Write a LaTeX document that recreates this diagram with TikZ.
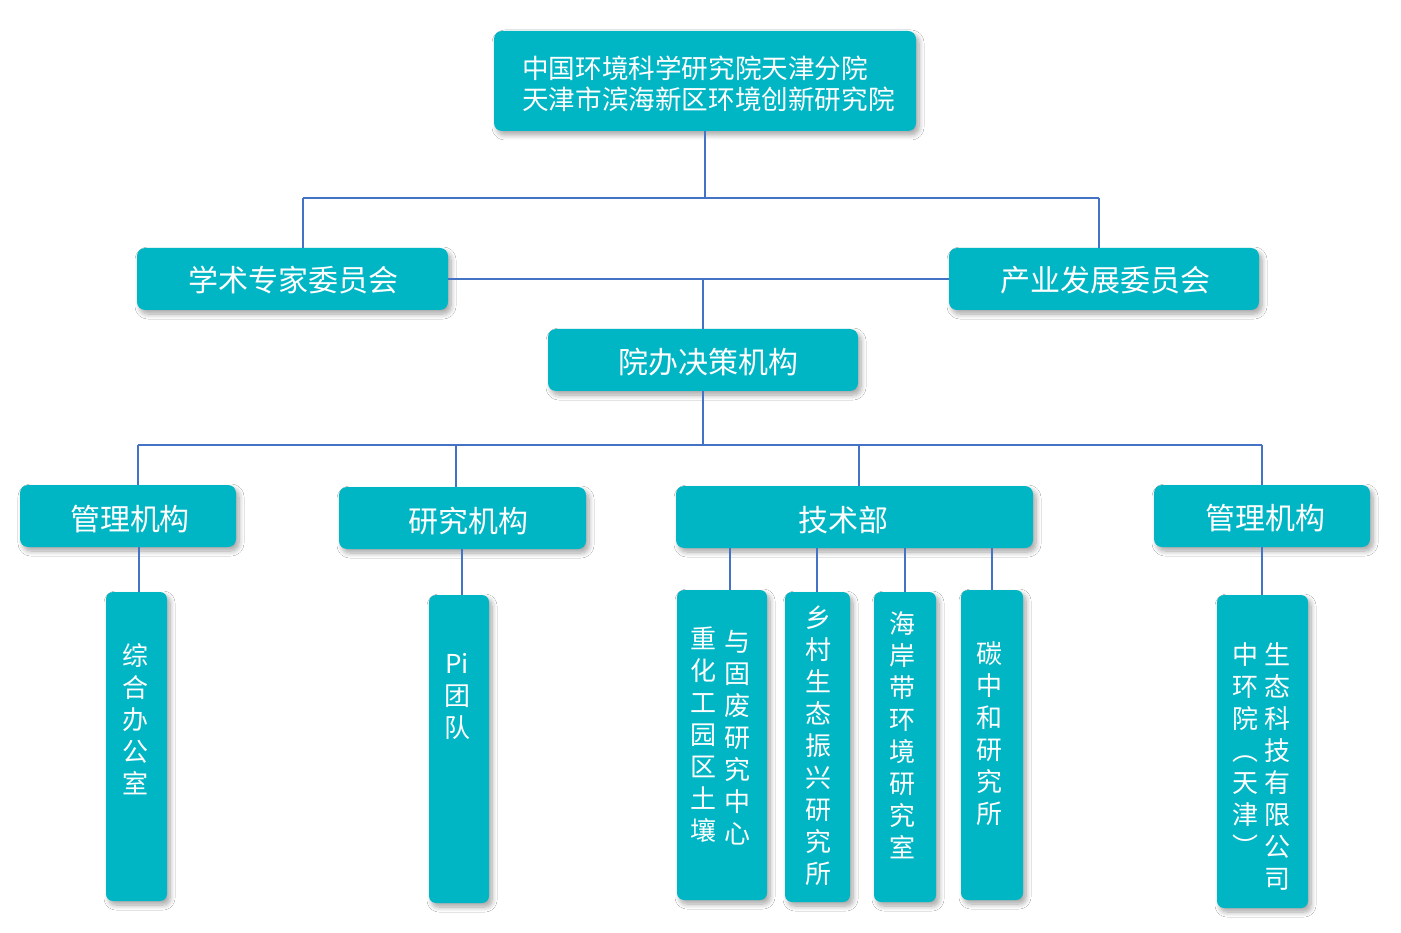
\documentclass[tikz,border=0pt]{standalone}
\usepackage{fontspec}
\newfontfamily\cjk{Noto Sans CJK SC}
\usetikzlibrary{shadows.blur}
\definecolor{boxteal}{RGB}{0,182,196}
\definecolor{lineblue}{RGB}{68,114,196}
\tikzset{
  box/.style={draw=none, fill=boxteal, rounded corners=8pt, inner sep=0pt,
    blur shadow={shadow xshift=3pt, shadow yshift=-4pt, shadow blur radius=5pt, shadow blur steps=8, shadow opacity=35}},
  vbox/.style={box, rounded corners=7pt},
  htxt/.style={text=white, inner sep=0pt, font=\cjk\fontsize{30pt}{36pt}\selectfont},
  toptxt/.style={text=white, inner sep=0pt, align=left, font=\cjk\fontsize{26.6pt}{31pt}\selectfont},
  vtxt/.style={text=white, inner sep=0pt, align=center, font=\cjk\fontsize{26pt}{32pt}\selectfont},
  conn/.style={draw=lineblue, line width=1.8pt},
}
\begin{document}
\begin{tikzpicture}[x=1pt, y=-1pt]
\useasboundingbox (0,0) rectangle (1401,933);
\fill[white] (0,0) rectangle (1401,933);

% ---- boxes ----
\node[box, minimum width=422pt, minimum height=100pt] (top) at (705,81) {};
\node[box, minimum width=311pt, minimum height=62pt] (xs) at (292.5,279) {};
\node[box, minimum width=310pt, minimum height=62pt] (cy) at (1104,279) {};
\node[box, minimum width=310pt, minimum height=62pt] (yb) at (703,360) {};
\node[box, minimum width=216pt, minimum height=62pt] (gl1) at (128,516) {};
\node[box, minimum width=247pt, minimum height=62pt] (yj) at (462.5,518) {};
\node[box, minimum width=357pt, minimum height=62pt] (js) at (854.5,517) {};
\node[box, minimum width=216pt, minimum height=62pt] (gl2) at (1262,516) {};

\node[vbox, minimum width=61pt, minimum height=309pt] (b1) at (136.5,746.5) {};
\node[vbox, minimum width=60pt, minimum height=308pt] (b2) at (459,749) {};
\node[vbox, minimum width=90pt, minimum height=310pt] (b3) at (722,745) {};
\node[vbox, minimum width=65pt, minimum height=310pt] (b4) at (817.5,747) {};
\node[vbox, minimum width=62pt, minimum height=310pt] (b5) at (905,747) {};
\node[vbox, minimum width=62pt, minimum height=310pt] (b6) at (992,745) {};
\node[vbox, minimum width=91pt, minimum height=313pt] (b7) at (1262.5,751.5) {};

% ---- texts ----
\node[toptxt, anchor=west] (toptext) at (522,83.5) {中国环境科学研究院天津分院\\天津市滨海新区环境创新研究院};
\node[htxt] (xst) at (293,280) {学术专家委员会};
\node[htxt] (cyt) at (1105,280) {产业发展委员会};
\node[htxt] (ybt) at (708,362) {院办决策机构};
\node[htxt] (gl1t) at (130,519) {管理机构};
\node[htxt] (yjt) at (468,521) {研究机构};
\node[htxt] (jst) at (843,520) {技术部};
\node[htxt] (gl2t) at (1265,518) {管理机构};

\node[vtxt] (b1t) at (135,719) {综\\合\\办\\公\\室};
\node[vtxt] (b2t) at (457,696) {Pi\\团\\队};
\node[vtxt, anchor=north] (b3ta) at (703,627) {重\\化\\工\\园\\区\\土\\壤};
\node[vtxt, anchor=north] (b3tb) at (737,630) {与\\固\\废\\研\\究\\中\\心};
\node[vtxt] (b4t) at (818,745.5) {乡\\村\\生\\态\\振\\兴\\研\\究\\所};
\node[vtxt] (b5t) at (902,735) {海\\岸\\带\\环\\境\\研\\究\\室};
\node[vtxt] (b6t) at (989,734) {碳\\中\\和\\研\\究\\所};
\node[vtxt, anchor=north] (b7ta) at (1245,642) {中\\环\\院\\︵\\天\\津\\︶};
\node[vtxt, anchor=north] (b7tb) at (1277,642) {生\\态\\科\\技\\有\\限\\公\\司};

% ---- junction coordinates ----
\coordinate (j1) at (705,198);
\coordinate (j1l) at (303,198);
\coordinate (j1r) at (1099,198);
\coordinate (m1) at (703,279);
\coordinate (j2) at (703,445);
\coordinate (j2a) at (138,445);
\coordinate (j2b) at (456,445);
\coordinate (j2c) at (859,445);
\coordinate (j2d) at (1262,445);
\coordinate (d1) at (139,0);
\coordinate (d2) at (462,0);
\coordinate (d3) at (730,0);
\coordinate (d4) at (817,0);
\coordinate (d5) at (905,0);
\coordinate (d6) at (992,0);
\coordinate (d7) at (1262,0);

% ---- connectors ----
\draw[conn] (top.south) -- (j1);
\draw[conn] (j1l |- j1) -- (j1r);
\draw[conn] (j1l) -- (j1l |- xs.north);
\draw[conn] (j1r) -- (j1r |- cy.north);
\draw[conn] (xs.east) -- (cy.west);
\draw[conn] (m1) -- (yb.north);
\draw[conn] (yb.south) -- (j2);
\draw[conn] (j2a) -- (j2d);
\draw[conn] (j2a) -- (j2a |- gl1.north);
\draw[conn] (j2b) -- (j2b |- yj.north);
\draw[conn] (j2c) -- (j2c |- js.north);
\draw[conn] (j2d) -- (j2d |- gl2.north);
\draw[conn] (d1 |- gl1.south) -- (d1 |- b1.north);
\draw[conn] (d2 |- yj.south) -- (d2 |- b2.north);
\draw[conn] (d3 |- js.south) -- (d3 |- b3.north);
\draw[conn] (d4 |- js.south) -- (d4 |- b4.north);
\draw[conn] (d5 |- js.south) -- (d5 |- b5.north);
\draw[conn] (d6 |- js.south) -- (d6 |- b6.north);
\draw[conn] (d7 |- gl2.south) -- (d7 |- b7.north);
\end{tikzpicture}
\end{document}
